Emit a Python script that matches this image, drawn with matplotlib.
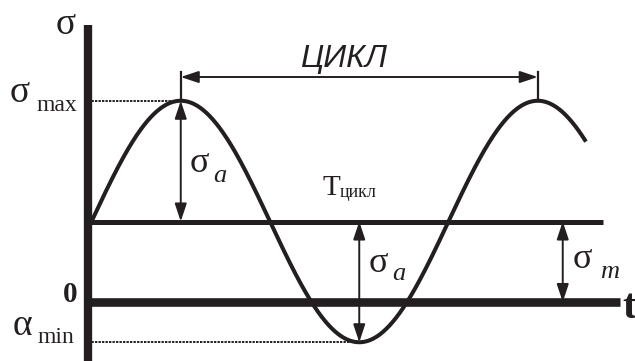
import numpy as np
import matplotlib
matplotlib.use('Agg')
from matplotlib import pyplot as plt

# cycle parameters (in arbitrary stress units, time in cycles)
T = 1.0            # period of one cycle
sigma_m = 1.0      # mean stress
sigma_a = 1.5      # stress amplitude
t_end = 1.385      # where the drawn curve stops
sigma_max = sigma_m + sigma_a
sigma_min = sigma_m - sigma_a

ink = '#231f20'
serif = ['Liberation Serif', 'DejaVu Serif']
sans = ['Liberation Sans', 'DejaVu Sans']

fig = plt.figure(figsize=(6.35, 3.61), dpi=100)
ax = fig.add_axes([0, 0, 1, 1])
# 357 px per period, 80.5 px per stress unit
ax.set_xlim(-91.5 / 357, (635 - 91.5) / 357)
ax.set_ylim(-59 / 80.5, 302 / 80.5)
ax.axis('off')

t_axis = -0.011
t = np.linspace(t_axis, t_end, 600)
sigma = sigma_m + sigma_a * np.sin(2 * np.pi * t / T)

# axes: stress axis and time axis
ax.plot([t_axis, t_axis], [-1, 3.44], color=ink, lw=6.0, solid_capstyle='butt')
ax.plot([-0.021, 1.48], [0, 0], color=ink, lw=6.2, solid_capstyle='butt')
# mean stress line
ax.plot([t_axis, 1.433], [sigma_m, sigma_m], color=ink, lw=3.6, solid_capstyle='butt')
# the stress curve
ax.plot(t, sigma, color=ink, lw=2.9, solid_capstyle='butt')

# dotted lines to max / min
ax.plot([t_axis, T / 4], [sigma_max, sigma_max], color=ink, lw=1.4, ls=(0, (1.2, 0.6)))
ax.plot([t_axis, 3 * T / 4], [sigma_min, sigma_min], color=ink, lw=1.4, ls=(0, (1.2, 0.6)))

arrow = dict(arrowstyle='<|-|>,head_length=0.9,head_width=0.3', color=ink, lw=1.4,
             shrinkA=0, shrinkB=0, mutation_scale=12)

# one cycle dimension line
y_dim = sigma_max + 0.295
ax.plot([T / 4, T / 4], [sigma_max, y_dim + 0.065], color=ink, lw=1.6)
ax.plot([5 * T / 4, 5 * T / 4], [sigma_max, y_dim + 0.065], color=ink, lw=1.6)
ax.annotate('', xy=(T / 4, y_dim), xytext=(5 * T / 4, y_dim), arrowprops=arrow)
ax.text(0.707, sigma_max + 0.415, 'ЦИКЛ', family=sans, style='italic', fontsize=23,
        color=ink, ha='center', va='baseline')

# amplitude and mean arrows
ax.annotate('', xy=(T / 4, sigma_max), xytext=(T / 4, sigma_m), arrowprops=arrow)
ax.annotate('', xy=(3 * T / 4, sigma_m), xytext=(3 * T / 4, sigma_min), arrowprops=arrow)
t_m = 1.32
ax.annotate('', xy=(t_m, sigma_m), xytext=(t_m, 0), arrowprops=arrow)

def sub_label(x, y, main, sub, size=26, sub_size=19, sub_dx=0.0, sub_dy=-0.12,
              sub_style='italic'):
    ax.text(x, y, main, family=serif, fontsize=size, color=ink, ha='left',
            va='baseline')
    ax.text(x + sub_dx, y + sub_dy, sub, family=serif, fontsize=sub_size,
            style=sub_style, color=ink, ha='left', va='baseline')

sub_label(0.275, 1.615, 'σ', 'a', sub_dx=0.066)
sub_label(0.775, 0.373, 'σ', 'a', sub_dx=0.066, sub_dy=-0.1)
sub_label(1.349, 0.42, 'σ', 'm', sub_dx=0.076)

# T_cycle label
ax.text(0.646, sigma_m + 0.33, 'T', family=serif, fontsize=21, color=ink,
        ha='left', va='baseline')
ax.text(0.696, sigma_m + 0.305, 'цикл', family=serif, fontsize=13, color=ink,
        ha='left', va='baseline')

# axis labels
ax.text(-0.101, 3.33, 'σ', family=serif, fontsize=27, color=ink, ha='left', va='baseline')
sub_label(-0.228, sigma_max - 0.02, 'σ', 'max', size=27, sub_size=17, sub_dx=0.074,
          sub_dy=-0.11, sub_style='normal')
sub_label(-0.22, -0.41, 'α', 'min', size=27, sub_size=17, sub_dx=0.07,
          sub_dy=-0.1, sub_style='normal')
ax.text(-0.08, 0.0, '0', family=serif, fontsize=21, fontweight='bold', color=ink,
        ha='left', va='baseline')
ax.text(1.486, -0.2, 't', family=serif, fontsize=30, fontweight='bold', color=ink,
        ha='left', va='baseline')

plt.savefig('out.png', dpi=100)
